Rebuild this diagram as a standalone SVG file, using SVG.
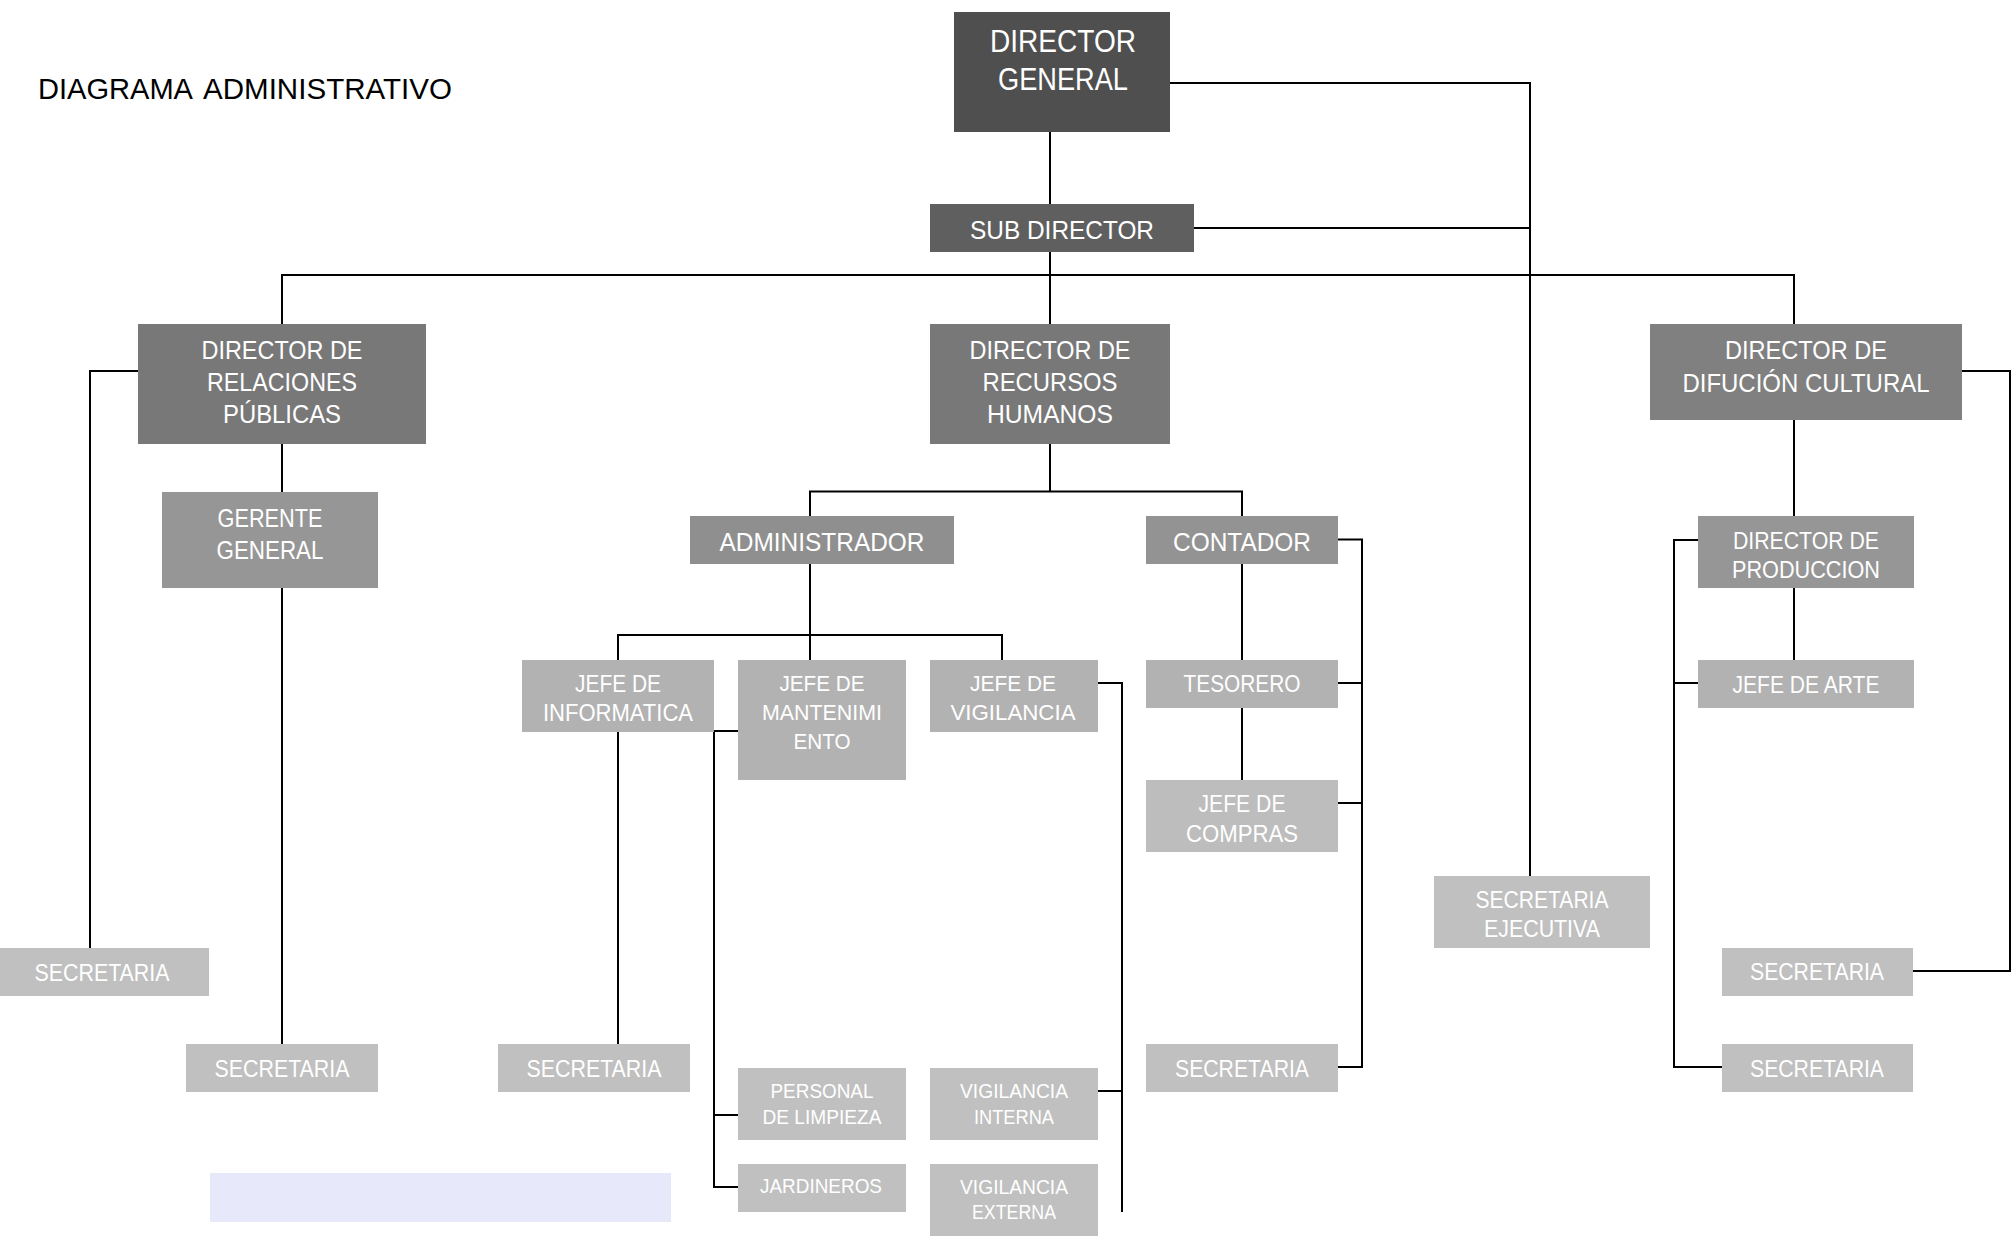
<svg xmlns="http://www.w3.org/2000/svg" width="2016" height="1241" viewBox="0 0 2016 1241">
  <style>
    .ln { stroke: #000; stroke-width: 2; fill: none; }
    .t { font-family: "Liberation Sans Narrow", "Liberation Sans", "DejaVu Sans Condensed", sans-serif; fill: #fff; text-anchor: middle; }
    .w { font-family: "Liberation Sans", "DejaVu Sans", sans-serif; fill: #fff; text-anchor: middle; }
    .hd { font-family: "Liberation Sans", "DejaVu Sans", sans-serif; font-size: 29px; fill: #000; }
    .l1 { fill: #4f4f4f; }
    .l2 { fill: #5f5f5f; }
    .l3 { fill: #787878; }
    .l4 { fill: #939393; }
    .l5 { fill: #b2b2b2; }
    .l6 { fill: #c0c0c0; }
  </style>
  <rect width="2016" height="1241" fill="#fff"/>

  <!-- connectors -->
  <g id="connectors" class="ln">
    <path d="M1050 132 V204"/>
    <path d="M1170 83 H1530 V876"/>
    <path d="M1194 228 H1530"/>
    <path d="M1050 252 V324"/>
    <path d="M282 324 V275 H1794 V324"/>
    <path d="M282 444 V492"/>
    <path d="M282 588 V1044"/>
    <path d="M138 371 H90 V948"/>
    <path d="M1050 444 V491.5"/>
    <path d="M810 516 V491.5 H1242 V516"/>
    <path d="M810 564 V660"/>
    <path d="M618 660 V635 H1002 V660"/>
    <path d="M618 732 V1044"/>
    <path d="M738 731 H714 V1187 H738"/>
    <path d="M714 1115 H738"/>
    <path d="M1098 683 H1122 V1212"/>
    <path d="M1098 1091 H1122"/>
    <path d="M1242 564 V660"/>
    <path d="M1242 708 V780"/>
    <path d="M1338 539.5 H1362 V1067 H1338"/>
    <path d="M1338 683 H1362"/>
    <path d="M1338 803 H1362"/>
    <path d="M1794 420 V516"/>
    <path d="M1794 588 V660"/>
    <path d="M1962 371 H2010 V971 H1913"/>
    <path d="M1698 540 H1674 V1067 H1722"/>
    <path d="M1674 683 H1698"/>
  </g>

  <!-- heading -->
  <g id="titulo">
    <text class="hd" x="38" y="99" textLength="155" lengthAdjust="spacingAndGlyphs">DIAGRAMA</text>
    <text class="hd" x="203" y="99" textLength="249" lengthAdjust="spacingAndGlyphs">ADMINISTRATIVO</text>
  </g>

  <g id="director-general">
    <rect class="l1" x="954" y="12" width="216" height="120"/>
    <text class="t" x="1063" y="52" font-size="31" textLength="146" lengthAdjust="spacingAndGlyphs">DIRECTOR</text>
    <text class="t" x="1063" y="90" font-size="31" textLength="130" lengthAdjust="spacingAndGlyphs">GENERAL</text>
  </g>

  <g id="sub-director">
    <rect class="l2" x="930" y="204" width="264" height="48"/>
    <text class="t" x="1062" y="239" font-size="26" textLength="184" lengthAdjust="spacingAndGlyphs">SUB DIRECTOR</text>
  </g>

  <g id="dir-relaciones">
    <rect class="l3" x="138" y="324" width="288" height="120"/>
    <text class="t" x="282" y="359" font-size="26" textLength="161" lengthAdjust="spacingAndGlyphs">DIRECTOR DE</text>
    <text class="t" x="282" y="391" font-size="26" textLength="150" lengthAdjust="spacingAndGlyphs">RELACIONES</text>
    <text class="t" x="282" y="423" font-size="26" textLength="118" lengthAdjust="spacingAndGlyphs">PÚBLICAS</text>
  </g>

  <g id="gerente-general">
    <rect fill="#969696" x="162" y="492" width="216" height="96"/>
    <text class="t" x="270" y="527" font-size="26" textLength="105" lengthAdjust="spacingAndGlyphs">GERENTE</text>
    <text class="t" x="270" y="559" font-size="26" textLength="107" lengthAdjust="spacingAndGlyphs">GENERAL</text>
  </g>

  <g id="dir-recursos">
    <rect class="l3" x="930" y="324" width="240" height="120"/>
    <text class="w" x="1050" y="359" font-size="25" textLength="161" lengthAdjust="spacingAndGlyphs">DIRECTOR DE</text>
    <text class="w" x="1050" y="391" font-size="25" textLength="135" lengthAdjust="spacingAndGlyphs">RECURSOS</text>
    <text class="w" x="1050" y="423" font-size="25" textLength="126" lengthAdjust="spacingAndGlyphs">HUMANOS</text>
  </g>

  <g id="dir-difusion">
    <rect fill="#808080" x="1650" y="324" width="312" height="96"/>
    <text class="w" x="1806" y="359" font-size="25" textLength="162" lengthAdjust="spacingAndGlyphs">DIRECTOR DE</text>
    <text class="w" x="1806" y="392" font-size="25" textLength="247" lengthAdjust="spacingAndGlyphs">DIFUCIÓN CULTURAL</text>
  </g>

  <g id="administrador">
    <rect fill="#8f8f8f" x="690" y="516" width="264" height="48"/>
    <text class="t" x="822" y="551" font-size="26" textLength="205" lengthAdjust="spacingAndGlyphs">ADMINISTRADOR</text>
  </g>

  <g id="contador">
    <rect class="l4" x="1146" y="516" width="192" height="48"/>
    <text class="w" x="1242" y="551" font-size="25" textLength="138" lengthAdjust="spacingAndGlyphs">CONTADOR</text>
  </g>

  <g id="dir-produccion">
    <rect fill="#969696" x="1698" y="516" width="216" height="72"/>
    <text class="w" x="1806" y="549" font-size="23" textLength="146" lengthAdjust="spacingAndGlyphs">DIRECTOR DE</text>
    <text class="w" x="1806" y="578" font-size="23" textLength="148" lengthAdjust="spacingAndGlyphs">PRODUCCION</text>
  </g>

  <g id="jefe-informatica">
    <rect class="l5" x="522" y="660" width="192" height="72"/>
    <text class="t" x="618" y="692" font-size="23" textLength="86" lengthAdjust="spacingAndGlyphs">JEFE DE</text>
    <text class="t" x="618" y="721" font-size="23" textLength="150" lengthAdjust="spacingAndGlyphs">INFORMATICA</text>
  </g>

  <g id="jefe-mantenimiento">
    <rect class="l5" x="738" y="660" width="168" height="120"/>
    <text class="w" x="822" y="691" font-size="22" textLength="85" lengthAdjust="spacingAndGlyphs">JEFE DE</text>
    <text class="w" x="822" y="720" font-size="22" textLength="120" lengthAdjust="spacingAndGlyphs">MANTENIMI</text>
    <text class="w" x="822" y="749" font-size="22" textLength="57" lengthAdjust="spacingAndGlyphs">ENTO</text>
  </g>

  <g id="jefe-vigilancia">
    <rect class="l5" x="930" y="660" width="168" height="72"/>
    <text class="w" x="1013" y="691" font-size="22" textLength="86" lengthAdjust="spacingAndGlyphs">JEFE DE</text>
    <text class="w" x="1013" y="720" font-size="22" textLength="125" lengthAdjust="spacingAndGlyphs">VIGILANCIA</text>
  </g>

  <g id="tesorero">
    <rect class="l5" x="1146" y="660" width="192" height="48"/>
    <text class="t" x="1242" y="692" font-size="23" textLength="117" lengthAdjust="spacingAndGlyphs">TESORERO</text>
  </g>

  <g id="jefe-arte">
    <rect class="l5" x="1698" y="660" width="216" height="48"/>
    <text class="w" x="1806" y="693" font-size="23" textLength="147" lengthAdjust="spacingAndGlyphs">JEFE DE ARTE</text>
  </g>

  <g id="jefe-compras">
    <rect fill="#bdbdbd" x="1146" y="780" width="192" height="72"/>
    <text class="t" x="1242" y="812" font-size="23" textLength="87" lengthAdjust="spacingAndGlyphs">JEFE DE</text>
    <text class="t" x="1242" y="842" font-size="23" textLength="112" lengthAdjust="spacingAndGlyphs">COMPRAS</text>
  </g>

  <g id="secretaria-ejecutiva">
    <rect class="l6" x="1434" y="876" width="216" height="72"/>
    <text class="t" x="1542" y="908" font-size="23" textLength="133" lengthAdjust="spacingAndGlyphs">SECRETARIA</text>
    <text class="t" x="1542" y="937" font-size="23" textLength="116" lengthAdjust="spacingAndGlyphs">EJECUTIVA</text>
  </g>

  <g id="secretaria-relaciones">
    <rect class="l6" x="0" y="948" width="209" height="48"/>
    <text class="t" x="102" y="981" font-size="24" textLength="135" lengthAdjust="spacingAndGlyphs">SECRETARIA</text>
  </g>

  <g id="secretaria-difusion">
    <rect class="l6" x="1722" y="948" width="191" height="48"/>
    <text class="t" x="1817" y="980" font-size="24" textLength="134" lengthAdjust="spacingAndGlyphs">SECRETARIA</text>
  </g>

  <g id="secretaria-gerente">
    <rect class="l6" x="186" y="1044" width="192" height="48"/>
    <text class="t" x="282" y="1077" font-size="24" textLength="135" lengthAdjust="spacingAndGlyphs">SECRETARIA</text>
  </g>

  <g id="secretaria-informatica">
    <rect class="l6" x="498" y="1044" width="192" height="48"/>
    <text class="t" x="594" y="1077" font-size="24" textLength="135" lengthAdjust="spacingAndGlyphs">SECRETARIA</text>
  </g>

  <g id="secretaria-contador">
    <rect class="l6" x="1146" y="1044" width="192" height="48"/>
    <text class="t" x="1242" y="1077" font-size="24" textLength="134" lengthAdjust="spacingAndGlyphs">SECRETARIA</text>
  </g>

  <g id="secretaria-produccion">
    <rect class="l6" x="1722" y="1044" width="191" height="48"/>
    <text class="t" x="1817" y="1077" font-size="24" textLength="134" lengthAdjust="spacingAndGlyphs">SECRETARIA</text>
  </g>

  <g id="personal-limpieza">
    <rect class="l6" x="738" y="1068" width="168" height="72"/>
    <text class="t" x="822" y="1098" font-size="21" textLength="103" lengthAdjust="spacingAndGlyphs">PERSONAL</text>
    <text class="t" x="822" y="1124" font-size="21" textLength="119" lengthAdjust="spacingAndGlyphs">DE LIMPIEZA</text>
  </g>

  <g id="jardineros">
    <rect class="l6" x="738" y="1164" width="168" height="48"/>
    <text class="t" x="821" y="1193" font-size="21" textLength="122" lengthAdjust="spacingAndGlyphs">JARDINEROS</text>
  </g>

  <g id="vigilancia-interna">
    <rect class="l6" x="930" y="1068" width="168" height="72"/>
    <text class="t" x="1014" y="1098" font-size="21" textLength="108" lengthAdjust="spacingAndGlyphs">VIGILANCIA</text>
    <text class="t" x="1014" y="1124" font-size="21" textLength="80" lengthAdjust="spacingAndGlyphs">INTERNA</text>
  </g>

  <g id="vigilancia-externa">
    <rect class="l6" x="930" y="1164" width="168" height="72"/>
    <text class="t" x="1014" y="1194" font-size="21" textLength="108" lengthAdjust="spacingAndGlyphs">VIGILANCIA</text>
    <text class="t" x="1014" y="1219" font-size="21" textLength="84" lengthAdjust="spacingAndGlyphs">EXTERNA</text>
  </g>

  <!-- empty lavender panel -->
  <rect id="panel" x="210" y="1173" width="461" height="49" fill="#e8e8fb"/>
</svg>
